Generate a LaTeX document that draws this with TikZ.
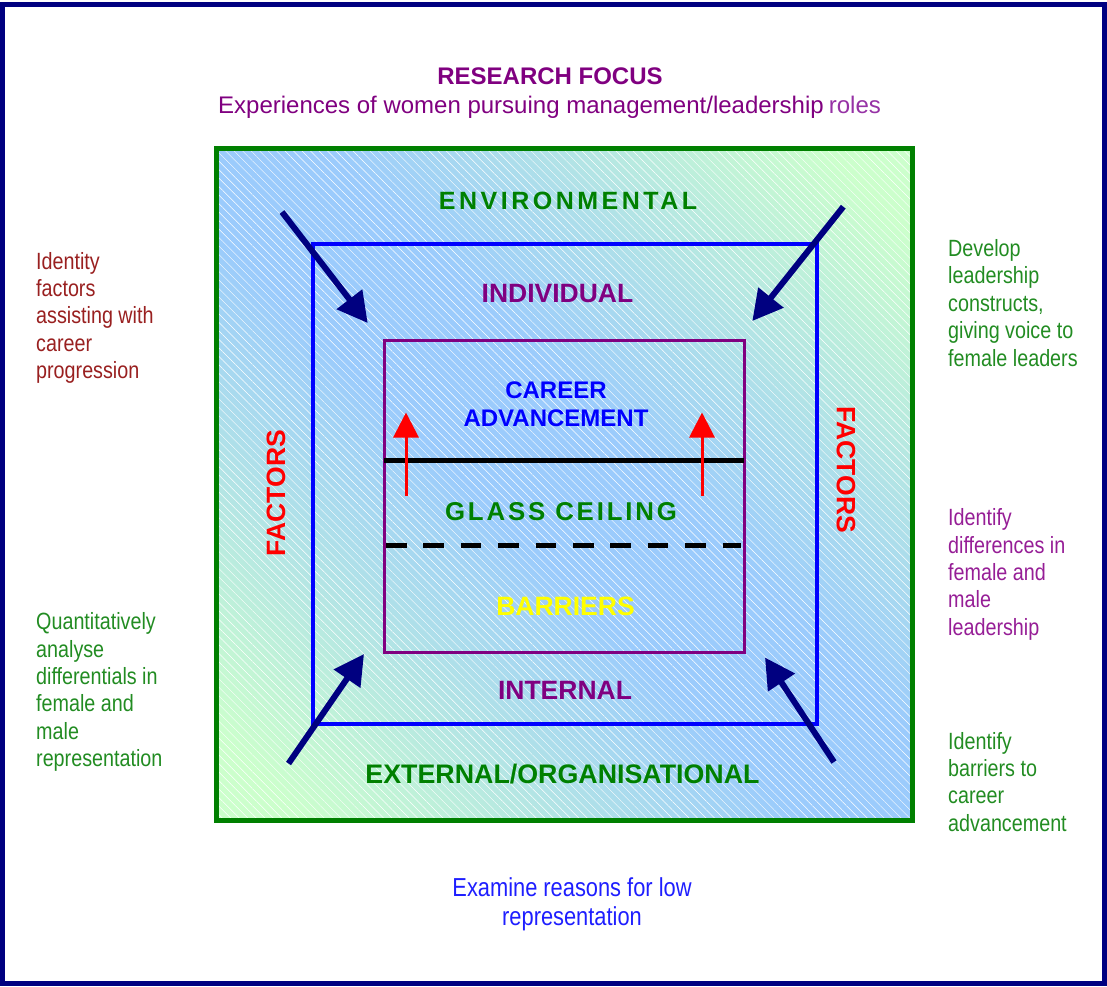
\documentclass[tikz,border=0pt]{standalone}
\usepackage{fontspec}
\setmainfont{Liberation Sans}
\newfontfamily\narrowfont{Liberation Sans}[FakeStretch=0.84]
\usetikzlibrary{arrows.meta,patterns.meta}
\definecolor{navy}{RGB}{0,0,128}
\definecolor{dgreen}{RGB}{0,128,0}
\definecolor{purp}{RGB}{128,0,128}
\definecolor{lightpurp}{RGB}{150,50,165}
\definecolor{lgreen}{RGB}{204,255,204}
\definecolor{lblue}{RGB}{155,203,252}
\definecolor{txtred}{RGB}{153,32,32}
\definecolor{txtgreen}{RGB}{34,140,34}
\definecolor{txtpurp}{RGB}{150,30,150}
\definecolor{txtblue}{RGB}{30,30,255}
\definecolor{yel}{RGB}{255,255,0}
\pgfdeclareverticalshading{diagshade}{100bp}{color(0bp)=(lgreen); color(19bp)=(lgreen); color(45bp)=(lblue); color(55bp)=(lblue); color(81bp)=(lgreen); color(100bp)=(lgreen)}
\tikzset{
  lab/.style={inner sep=0pt, anchor=base, font=\bfseries\fontsize{26.5}{30}\selectfont},
  side/.style={inner sep=0pt, anchor=north west, align=left, font=\narrowfont\fontsize{23.5}{27.4}\selectfont},
  bigarrow/.style={navy, line width=6pt, -{Triangle[length=30pt,width=31pt]}},
  redarrow/.style={red, line width=3pt, -{Triangle[length=25pt,width=25pt]}},
}
\begin{document}
\begin{tikzpicture}[x=1pt,y=-1pt]
\useasboundingbox (0,0) rectangle (1107,986);
% outer frame
\draw[navy, line width=5pt] (2.5,4) rectangle (1104.5,983.5);
% background square
\shade[shading=diagshade, shading angle=-45] (216,148) rectangle (912,820);
\fill[pattern={Lines[angle=-45,distance=6pt,line width=0.45pt]}, pattern color=white, fill opacity=0.2] (216,148) rectangle (912,820);
\draw[dgreen, line width=5pt] (216,148) rectangle (912,820);
% inner rectangles
\draw[blue, line width=3.5pt] (313,244) rectangle (817,724);
\draw[purp, line width=3pt] (384,340) rectangle (744,652);
% ceiling lines
\coordinate (ceilL) at (384,460);
\coordinate (ceilR) at (744,460);
\draw[black, line width=5pt] (ceilL) -- (ceilR);
\coordinate (dashL) at (386,545);
\coordinate (dashR) at (741,545);
\draw[black, line width=5pt, dash pattern=on 20.5pt off 16.9pt] (dashL) -- (dashR);
% red arrows
\coordinate (rl0) at (406,496);
\coordinate (rl1) at (406,412.5);
\coordinate (rr0) at (702,496);
\coordinate (rr1) at (702,412.5);
\draw[redarrow] (rl0) -- (rl1);
\draw[redarrow] (rr0) -- (rr1);
% navy arrows
\coordinate (tl0) at (282,212);
\coordinate (tl1) at (367.7,323);
\coordinate (tr0) at (843.3,206.7);
\coordinate (tr1) at (752.3,321);
\coordinate (bl0) at (288.5,763.5);
\coordinate (bl1) at (364,654);
\coordinate (br0) at (834,762);
\coordinate (br1) at (765,657.5);
\draw[bigarrow] (tl0) -- (tl1);
\draw[bigarrow] (tr0) -- (tr1);
\draw[bigarrow] (bl0) -- (bl1);
\draw[bigarrow] (br0) -- (br1);
% titles
\node[lab, purp, font=\bfseries\fontsize{24}{28}\selectfont] (rf) at (550,84) {RESEARCH FOCUS};
\node[inner sep=0pt, anchor=base, purp, font=\fontsize{24}{28}\selectfont] (exp) at (549.5,113.5) {Experiences of women pursuing management/leadership\hspace{5pt}\textcolor{lightpurp}{roles}};
% box labels
\node[lab, dgreen, font=\bfseries\fontsize{25}{30}\selectfont\addfontfeature{LetterSpace=14}] (env) at (568,209) {ENVIRONMENTAL};
\node[lab, purp] (ind) at (557.5,302) {INDIVIDUAL};
\node[lab, blue, font=\bfseries\fontsize{24}{28}\selectfont] (car) at (556,398) {CAREER};
\node[lab, blue, font=\bfseries\fontsize{24}{28}\selectfont] (adv) at (556,426.5) {ADVANCEMENT};
\node[lab, dgreen, font=\bfseries\fontsize{25.8}{30}\selectfont\addfontfeature{LetterSpace=11}] (gc) at (561,520) {GLASS CEILING};
\node[lab, yel] (bar) at (565.5,615) {BARRIERS};
\node[lab, purp] (int) at (565,699) {INTERNAL};
\node[lab, dgreen, font=\bfseries\fontsize{26.8}{30}\selectfont] (ext) at (562.5,783) {EXTERNAL/ORGANISATIONAL};
\node[lab, red, anchor=center, rotate=90] (facL) at (276,493) {FACTORS};
\node[lab, red, anchor=center, rotate=-90] (facR) at (846,470) {FACTORS};
% side texts
\node[side, txtred] (s1) at (36,251.8) {Identity\\factors\\assisting with\\career\\progression};
\node[side, txtgreen] (s2) at (948,239.2) {Develop\\leadership\\constructs,\\giving voice to\\female leaders};
\node[side, txtpurp] (s3) at (948,508.5) {Identify\\differences in\\female and\\male\\leadership};
\node[side, txtgreen] (s4) at (36,612.5) {Quantitatively\\analyse\\differentials in\\female and\\male\\representation};
\node[side, txtgreen] (s5) at (948,731.8) {Identify\\barriers to\\career\\advancement};
\node[inner sep=0pt, anchor=north, align=center, txtblue, font=\narrowfont\fontsize{26}{29}\selectfont] (s6) at (572,877) {Examine reasons for low\\representation};
\end{tikzpicture}
\end{document}
